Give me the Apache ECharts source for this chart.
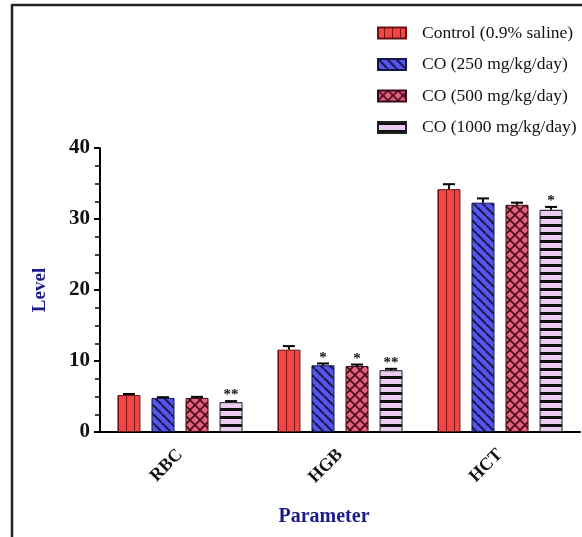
<!DOCTYPE html>
<html><head><meta charset="utf-8">
<script src="https://cdn.jsdelivr.net/npm/echarts@6/dist/echarts.min.js"></script>
<style>html,body{margin:0;padding:0;background:#fff}#c{width:582px;height:537px}</style>
</head><body><div id="c"></div>
<script>
var categories = ['RBC', 'HGB', 'HCT'];
var seriesNames = ['Control (0.9% saline)', 'CO (250 mg/kg/day)', 'CO (500 mg/kg/day)', 'CO (1000 mg/kg/day)'];
var control = [5.2, 11.6, 34.2];
var controlErr = [0.15, 0.5, 0.7];
var co250 = [4.8, 9.4, 32.3];
var co250Err = [0.1, 0.25, 0.6];
var co500 = [4.8, 9.3, 32.0];
var co500Err = [0.15, 0.2, 0.3];
var co1000 = [4.2, 8.7, 31.3];
var co1000Err = [0.15, 0.2, 0.4];
var controlStars = ['', '', ''];
var co250Stars = ['', '*', ''];
var co500Stars = ['', '*', ''];
var co1000Stars = ['**', '**', '*'];
var yTicks = [0, 10, 20, 30, 40];

var values = [control, co250, co500, co1000];
var errs = [controlErr, co250Err, co500Err, co1000Err];
var stars = [controlStars, co250Stars, co500Stars, co1000Stars];

function mk(w, h, draw) {
  var c = document.createElement('canvas'); c.width = w; c.height = h;
  draw(c.getContext('2d'), w, h); return c;
}
var patRed = mk(8, 8, function (g, w, h) {
  g.fillStyle = '#f24646'; g.fillRect(0, 0, w, h);
  g.fillStyle = '#7a1515'; g.fillRect(6, 0, 1, h);
});
var patBlue = mk(9, 9, function (g, w, h) {
  g.fillStyle = '#5656ee'; g.fillRect(0, 0, w, h);
  g.strokeStyle = '#1a1a55'; g.lineWidth = 2.2;
  [-9, 0, 9].forEach(function (k) { g.beginPath(); g.moveTo(k, 0); g.lineTo(k + 9, 9); g.stroke(); });
});
var patPink = mk(10, 10, function (g, w, h) {
  g.fillStyle = '#e2627e'; g.fillRect(0, 0, w, h);
  g.strokeStyle = '#4a0c1c'; g.lineWidth = 1.6;
  [-10, 0, 10].forEach(function (k) {
    g.beginPath(); g.moveTo(k, 0); g.lineTo(k + 10, 10); g.stroke();
    g.beginPath(); g.moveTo(k, 10); g.lineTo(k + 10, 0); g.stroke();
  });
});
var patLilac = mk(4, 8, function (g, w, h) {
  g.fillStyle = '#eccbf2'; g.fillRect(0, 0, w, h);
  g.fillStyle = '#111'; g.fillRect(0, 0, w, 3);
});
var pats = [patRed, patBlue, patPink, patLilac];
var borders = ['#6a1010', '#15154a', '#3a0a18', '#222'];

var BW = 23, GAP = '48%';
var series = [];
for (var s = 0; s < 4; s++) {
  series.push({
    name: seriesNames[s], type: 'bar', data: values[s], barWidth: BW, barGap: GAP,
    itemStyle: { color: { image: pats[s], repeat: 'repeat' }, borderColor: borders[s], borderWidth: 1 },
    emphasis: { disabled: true }, z: 2
  });
}
var errData = [];
for (var s2 = 0; s2 < 4; s2++) for (var i = 0; i < categories.length; i++)
  errData.push([i, values[s2][i], errs[s2][i], s2]);

series.push({
  type: 'custom', data: errData, z: 5, silent: true,
  encode: { x: 0, y: 1 },
  renderItem: function (params, api) {
    var cat = api.value(0), v = api.value(1), e = api.value(2), si = api.value(3);
    var st = stars[si][cat];
    var layout = api.barLayout ? api.barLayout({ count: 4, barWidth: BW, barGap: GAP }) : null;
    var off = layout ? layout[si].offsetCenter : (si - 1.5) * BW * 1.48;
    var p0 = api.coord([cat, v]), p1 = api.coord([cat, v + e]);
    var x = p0[0] + off;
    var ch = [
      { type: 'line', shape: { x1: x, y1: p0[1], x2: x, y2: p1[1] }, style: { stroke: '#000', lineWidth: 2 } },
      { type: 'line', shape: { x1: x - 6, y1: p1[1], x2: x + 6, y2: p1[1] }, style: { stroke: '#000', lineWidth: 2 } }
    ];
    if (st) ch.push({ type: 'text', x: x, y: p1[1] + 2, style: { text: st, fill: '#111', font: 'bold 15px "Liberation Serif"', align: 'center', verticalAlign: 'bottom' } });
    return { type: 'group', children: ch };
  }
});

var chart = echarts.init(document.getElementById('c'), null, { renderer: 'canvas' });
chart.setOption({
  animation: false,
  backgroundColor: '#fff',
  grid: { left: 100, right: 2, top: 148, bottom: 105 },
  legend: {
    data: seriesNames, orient: 'vertical', left: 377, top: 24, padding: 0, icon: 'rect',
    itemWidth: 28, itemHeight: 11, itemGap: 13.5, selectedMode: false,
    textStyle: { fontFamily: 'Liberation Serif', fontSize: 17.5, color: '#111', lineHeight: 16, padding: [0, 0, 0, 11] }
  },
  xAxis: {
    type: 'category', data: categories,
    name: 'Parameter', nameLocation: 'middle', nameGap: 75,
    nameTextStyle: { fontFamily: 'Liberation Serif', fontWeight: 'bold', fontSize: 20, color: '#1c1c8c', padding: [0, 32, 0, 0] },
    axisLine: { lineStyle: { color: '#000', width: 2 } },
    axisTick: { alignWithLabel: true, length: 6, lineStyle: { color: '#000', width: 2 } },
    axisLabel: { rotate: 45, margin: 20, fontFamily: 'Liberation Serif', fontWeight: 'bold', fontSize: 18, color: '#111' }
  },
  yAxis: {
    type: 'value', min: 0, max: 40, interval: 10,
    name: 'Level', nameLocation: 'middle', nameGap: 50,
    nameTextStyle: { fontFamily: 'Liberation Serif', fontWeight: 'bold', fontSize: 19, color: '#1c1c8c' },
    axisLine: { show: true, lineStyle: { color: '#000', width: 2 } },
    axisTick: { show: true, length: 6, lineStyle: { color: '#000', width: 2 } },
    minorTick: { show: true, splitNumber: 4, length: 5, lineStyle: { color: '#000', width: 1.5 } },
    splitLine: { show: false },
    axisLabel: { margin: 10, fontFamily: 'Liberation Serif', fontWeight: 'bold', fontSize: 21, color: '#111',
      formatter: function (v) { return yTicks.indexOf(v) >= 0 ? String(v) : ''; } }
  },
  graphic: [
    { type: 'line', shape: { x1: 12, y1: 5, x2: 582, y2: 5 }, style: { stroke: '#222', lineWidth: 2.5 }, silent: true },
    { type: 'line', shape: { x1: 12, y1: 4, x2: 12, y2: 537 }, style: { stroke: '#222', lineWidth: 2.5 }, silent: true }
  ],
  series: series
});
</script></body></html>
